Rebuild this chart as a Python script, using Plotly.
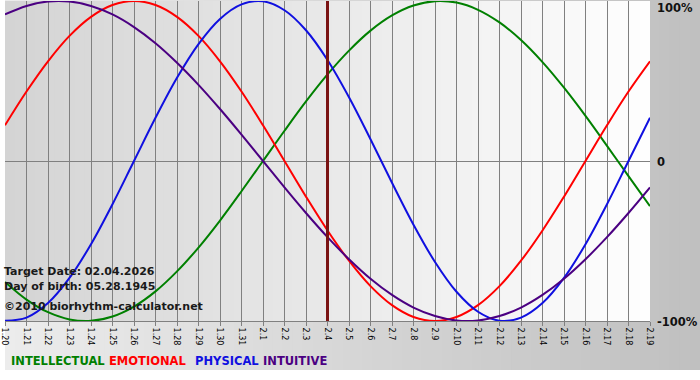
import plotly.graph_objects as go

dates = ["1.20", "1.21", "1.22", "1.23", "1.24", "1.25", "1.26", "1.27", "1.28", "1.29", "1.30", "1.31",
         "2.1", "2.2", "2.3", "2.4", "2.5", "2.6", "2.7", "2.8", "2.9", "2.10", "2.11", "2.12", "2.13",
         "2.14", "2.15", "2.16", "2.17", "2.18", "2.19"]

physical = [-99.8, -97.9, -88.8, -73.1, -52.0, -27.0, 0.0, 27.0, 52.0, 73.1, 88.8, 97.9, 99.8, 94.2, 81.7,
            63.1, 39.8, 13.6, -13.6, -39.8, -63.1, -81.7, -94.2, -99.8, -97.9, -88.8, -73.1, -52.0, -27.0,
            0.0, 27.0]
emotional = [22.3, 43.4, 62.3, 78.2, 90.1, 97.5, 100.0, 97.5, 90.1, 78.2, 62.3, 43.4, 22.3, 0.0, -22.3,
             -43.4, -62.3, -78.2, -90.1, -97.5, -100.0, -97.5, -90.1, -78.2, -62.3, -43.4, -22.3, 0.0,
             22.3, 43.4, 62.3]
intellectual = [-75.6, -86.6, -94.5, -99.0, -99.9, -97.2, -91.0, -81.5, -69.0, -54.1, -37.2, -18.9, 0.0,
                18.9, 37.2, 54.1, 69.0, 81.5, 91.0, 97.2, 99.9, 99.0, 94.5, 86.6, 75.6, 61.8, 45.8, 28.2,
                9.5, -9.5, -28.2]
intuitive = [91.6, 96.9, 99.7, 99.7, 96.9, 91.6, 83.7, 73.6, 61.4, 47.6, 32.5, 16.5, 0.0, -16.5, -32.5,
             -47.6, -61.4, -73.6, -83.7, -91.6, -96.9, -99.7, -99.7, -96.9, -91.6, -83.7, -73.6, -61.4,
             -47.6, -32.5, -16.5]

target_label = "2.4"
info_lines = ["Target Date: 02.04.2026", "Day of birth: 05.28.1945", "\u00a92010 biorhythm-calculator.net"]
legend_names = ["INTELLECTUAL", "EMOTIONAL", "PHYSICAL", "INTUITIVE"]
legend_colors = ["#008000", "#ff0000", "#1010e0", "#4b0082"]
y_labels = ["100%", "0", "-100%"]

W, H = 700, 380
ML, MR, MT, MB = 0, 50, 1, 59
PW, PH = W - ML - MR, H - MT - MB


def px_x(px):
    return (px - ML) / PW


def px_y(py):
    return (H - MB - py) / PH


fig = go.Figure()
series = [intellectual, emotional, physical, intuitive]
for name, vals, col in zip(legend_names, series, legend_colors):
    fig.add_trace(go.Scatter(x=dates, y=vals, mode="lines", name=name,
                             line=dict(color=col, width=2, shape="spline", smoothing=1.0),
                             hoverinfo="skip"))

shapes = []
# outer background gradient (light left -> darker right)
N = 70
for i in range(N):
    t = i / (N - 1)
    c = int(round(236 + (192 - 236) * t))
    shapes.append(dict(type="rect", xref="paper", yref="paper", layer="below",
                       x0=px_x(W * i / N), x1=px_x(W * (i + 1) / N) + 0.002,
                       y0=px_y(370), y1=px_y(-2), line=dict(width=0),
                       fillcolor=f"rgb({c},{c},{c})"))
# plot area gradient (grey left -> white right)
N2 = 65
for i in range(N2):
    t = i / (N2 - 1)
    c = int(round(212 + (254 - 212) * t))
    shapes.append(dict(type="rect", xref="paper", yref="paper", layer="below",
                       x0=i / N2, x1=(i + 1) / N2 + 0.002 if i < N2 - 1 else 1.0,
                       y0=0, y1=1, line=dict(width=0),
                       fillcolor=f"rgb({c},{c},{c})"))
# target date line
tidx = dates.index(target_label)
shapes.append(dict(type="line", xref="x", yref="paper", x0=tidx, x1=tidx, y0=0, y1=1,
                   line=dict(color="#7a1414", width=3), layer="above"))

annotations = []
for txt, py in zip(y_labels, [8, 162, 322]):
    annotations.append(dict(text=f"<b>{txt}</b>", xref="paper", yref="paper",
                            x=px_x(655), y=px_y(py), xanchor="left", yanchor="middle",
                            showarrow=False, font=dict(family="DejaVu Sans", size=11.5, color="#111")))
for txt, py in zip(info_lines, [271, 286, 306]):
    annotations.append(dict(text=f"<b>{txt}</b>", xref="paper", yref="paper",
                            x=px_x(-3), y=px_y(py), xanchor="left", yanchor="middle",
                            showarrow=False, font=dict(family="DejaVu Sans", size=11, color="#1a1a1a")))
for n, c, lx in zip(legend_names, legend_colors, [4, 103, 189, 258]):
    annotations.append(dict(text=f"<b>{n}</b>", xref="paper", yref="paper", x=px_x(lx), y=px_y(361),
                            xanchor="left", yanchor="middle", showarrow=False,
                            font=dict(family="DejaVu Sans", size=11.5, color=c)))

fig.update_layout(
    width=W, height=H,
    margin=dict(l=ML, r=MR, t=MT, b=MB, pad=0),
    paper_bgcolor="white", plot_bgcolor="rgba(0,0,0,0)",
    showlegend=False,
    shapes=shapes, annotations=annotations,
    xaxis=dict(type="category", range=[0, len(dates) - 1], tickangle=90,
               showgrid=True, gridcolor="#808080", gridwidth=1,
               ticks="outside", ticklen=4, tickcolor="#808080",
               showline=True, linecolor="#808080", linewidth=1,
               tickfont=dict(family="DejaVu Sans", size=8, color="black"),
               fixedrange=True, zeroline=False),
    yaxis=dict(range=[-100, 100], tickvals=[0], showticklabels=False,
               showgrid=True, gridcolor="#808080", gridwidth=1, zeroline=False,
               fixedrange=True),
)

fig.write_html("out.html", config={"displayModeBar": False, "staticPlot": True},
               post_script="document.documentElement.style.margin='0';document.body.style.margin='0';"
                           "document.body.style.padding='0';document.body.style.overflow='hidden';")
